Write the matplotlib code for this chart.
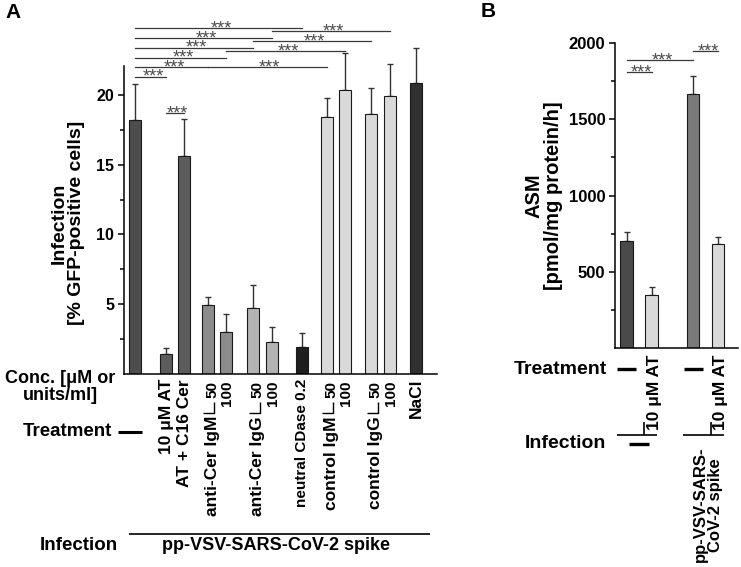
import numpy as np
import matplotlib.pyplot as plt
import matplotlib.transforms as mtransforms
from matplotlib.lines import Line2D

plt.rcParams['font.family'] = ['Liberation Sans', 'DejaVu Sans']
plt.rcParams['font.weight'] = 'bold'

# ---- panel A: infection with pp-VSV-SARS-CoV-2 spike (% GFP-positive cells)
a_treatment = ['—', '10 μM AT', 'AT + C16 Cer', 'anti-Cer IgM', '', 'anti-Cer IgG', '',
               'neutral CDase 0.2', 'control IgM', '', 'control IgG', '', 'NaCl']
a_conc = ['', '', '', '50', '100', '50', '100', '', '50', '100', '50', '100', '']
a_values = [18.22, 1.38, 15.67, 4.95, 2.96, 4.71, 2.24, 1.88, 18.45, 20.4, 18.67, 19.94, 20.9]
a_err = [2.61, 0.48, 2.62, 0.55, 1.30, 1.64, 1.13, 1.01, 1.39, 2.64, 1.89, 2.33, 2.5]
a_colors = ['#4d4d4d', '#5c5c5c', '#5c5c5c', '#8c8c8c', '#8c8c8c', '#b3b3b3', '#b3b3b3',
            '#1f1f1f', '#d9d9d9', '#d9d9d9', '#d9d9d9', '#d9d9d9', '#303030']
# significance brackets: (bar i, bar j, height)
a_sig = [(0, 7, 24.83), (6, 11, 24.62), (0, 6, 24.12), (5, 10, 23.9), (0, 5, 23.42),
         (4, 9, 23.2), (0, 4, 22.72), (0, 3, 22.03), (3, 8, 22.03), (0, 1, 21.35), (1, 2, 18.74)]
a_infection = 'pp-VSV-SARS-CoV-2 spike'

# ---- panel B: ASM activity
b_treatment = ['—', '10 μM AT', '—', '10 μM AT']
b_infection = ['—', 'pp-VSV-SARS-\nCoV-2 spike']   # one per pair of bars
b_values = [701.6, 347.5, 1663.5, 680.0]
b_err = [59.0, 50.5, 121.5, 48.0]
b_colors = ['#4a4a4a', '#d9d9d9', '#7a7a7a', '#d9d9d9']
b_sig = [(0, 1, 1809), (0, 2, 1887), (2, 3, 1946)]

# bar positions (uneven spacing as in the figure)
a_pos = np.array([0, 1.68, 2.65, 3.92, 4.92, 6.38, 7.41, 9.03, 10.35, 11.35, 12.76, 13.76, 15.19])
b_pos = np.array([0, 1, 2.66, 3.66])

W, H = 741, 567
fig = plt.figure(figsize=(W / 100, H / 100), dpi=100)


def fx(x):
    return x / W


def fy(y):
    return 1 - y / H


def box(l, t, r, b):
    return [l / W, 1 - b / H, (r - l) / W, (b - t) / H]


def style(ax, major, minor, fs):
    for s in ['top', 'right']:
        ax.spines[s].set_visible(False)
    for s in ['left', 'bottom']:
        ax.spines[s].set_linewidth(1.1)
    ax.set_yticks(major)
    ax.set_yticks(minor, minor=True)
    ax.set_xticks([])
    ax.tick_params(axis='y', which='major', length=4, width=1.1, pad=3, labelsize=fs)
    ax.tick_params(axis='y', which='minor', length=3, width=1.1)


def bars(ax, pos, vals, err, colors, width):
    ax.bar(pos, vals, width=width, color=colors, edgecolor='#1a1a1a',
           linewidth=0.8, zorder=2)
    eb = ax.errorbar(pos, vals, yerr=[np.zeros(len(vals)), err], fmt='none',
                     ecolor='#333333', elinewidth=1, capsize=2, capthick=1, zorder=1)
    for art in list(eb.lines[1]) + list(eb.lines[2]):
        art.set_clip_on(False)


def sig(ax, pos, pairs):
    for i, j, y in pairs:
        ax.plot([pos[i], pos[j]], [y, y], color='#3a3a3a', lw=0.9, clip_on=False)
        ax.annotate('***', ((pos[i] + pos[j]) / 2, y), xytext=(2, -3.6),
                    textcoords='offset points', ha='center', va='baseline',
                    fontsize=13, fontweight='normal', color='#4a4a4a',
                    annotation_clip=False)


def hline(x, y, trans, lw):
    fig.add_artist(Line2D(x, [fy(v) for v in y], lw=lw, color='k',
                          transform=trans, solid_capstyle='butt'))


# ---------------- panel A
axA = fig.add_axes(box(124, 66, 437, 373.5))
bars(axA, a_pos, a_values, a_err, a_colors, 0.65)
axA.set_xlim(-0.595, 16.32)
axA.set_ylim(0, 22.12)
style(axA, [5, 10, 15, 20], [2.5, 7.5, 12.5, 17.5], 11.5)
sig(axA, a_pos, a_sig)

fig.text(fx(68), fy(223), 'Infection\n[% GFP-positive cells]', rotation=90,
         ha='center', va='center', fontsize=14, linespacing=1.05)

tA = mtransforms.blended_transform_factory(axA.transData, fig.transFigure)
u = 1 / 18.5  # data units per pixel
for p, lab, conc in zip(a_pos, a_treatment, a_conc):
    if lab == '—':
        hline([p - 17 * u, p + 7 * u], [432, 432], tA, 2.2)
    elif lab and conc:
        x = p + 4.6 * u
        fig.text(x, fy(416), lab, transform=tA, rotation=90, ha='center',
                 va='top', fontsize=12.5)
        hline([x - 9 * u, x + 2 * u, x + 2 * u], [413, 413, 402], tA, 1)
    elif lab:
        fs = 11 if lab.startswith('neutral') else 12.5
        fig.text(p, fy(379), lab, transform=tA, rotation=90, ha='center',
                 va='top', fontsize=fs)
    if conc:
        off = 4.6 if conc == '50' else 1
        fig.text(p + off * u, fy(381), conc, transform=tA, rotation=90,
                 ha='center', va='top', fontsize=11)

fig.text(fx(60), fy(387), 'Conc. [μM or\nunits/ml]', ha='center', va='center',
         fontsize=13, linespacing=0.95)
fig.text(fx(112), fy(431), 'Treatment', ha='right', va='center', fontsize=13.5)
fig.text(fx(118), fy(545), 'Infection', ha='right', va='center', fontsize=13.5)
hline([a_pos[0] - 6 * u, a_pos[-1] + 14 * u], [534, 534], tA, 1.2)
fig.text(fx(276.5), fy(545), a_infection, ha='center', va='center', fontsize=13)

# ---------------- panel B
axB = fig.add_axes(box(615, 43, 738, 348))
bars(axB, b_pos, b_values, b_err, b_colors, 0.5)
axB.set_xlim(-0.46, 4.46)
axB.set_ylim(0, 2000)
style(axB, [500, 1000, 1500, 2000], [250, 750, 1250, 1750], 12)
sig(axB, b_pos, b_sig)

fig.text(fx(544), fy(196), 'ASM\n[pmol/mg protein/h]', rotation=90,
         ha='center', va='center', fontsize=14.5, linespacing=1.05)

tB = mtransforms.blended_transform_factory(axB.transData, fig.transFigure)
v = 1 / 25
fig.text(fx(607), fy(369), 'Treatment', ha='right', va='center', fontsize=14)
for p, lab in zip(b_pos, b_treatment):
    if lab == '—':
        hline([p - 9.5 * v, p + 9.5 * v], [369, 369], tB, 2.4)
    else:
        fig.text(p + 3 * v, fy(355), lab, transform=tB, rotation=90,
                 ha='center', va='top', fontsize=12.5)

fig.text(fx(606), fy(444), 'Infection', ha='right', va='center', fontsize=14)
for k, lab in enumerate(b_infection):
    left, right = b_pos[2 * k], b_pos[2 * k + 1]
    mid = (left + right) / 2
    hline([left - 0.4, right + 0.23], [435, 435], tB, 1.2)
    hline([right - 0.3, right - 0.3], [435, 422], tB, 1.2)
    if lab == '—':
        hline([mid - 0.4, mid + 0.4], [444, 444], tB, 2.4)
    else:
        fig.text(mid + 0.1, fy(447), lab, transform=tB, rotation=90,
                 ha='center', va='top', fontsize=12, linespacing=1.0)

fig.text(fx(5), fy(3), 'A', ha='left', va='top', fontsize=15)
fig.text(fx(481), fy(2), 'B', ha='left', va='top', fontsize=15)

fig.savefig('out.png', dpi=100)
